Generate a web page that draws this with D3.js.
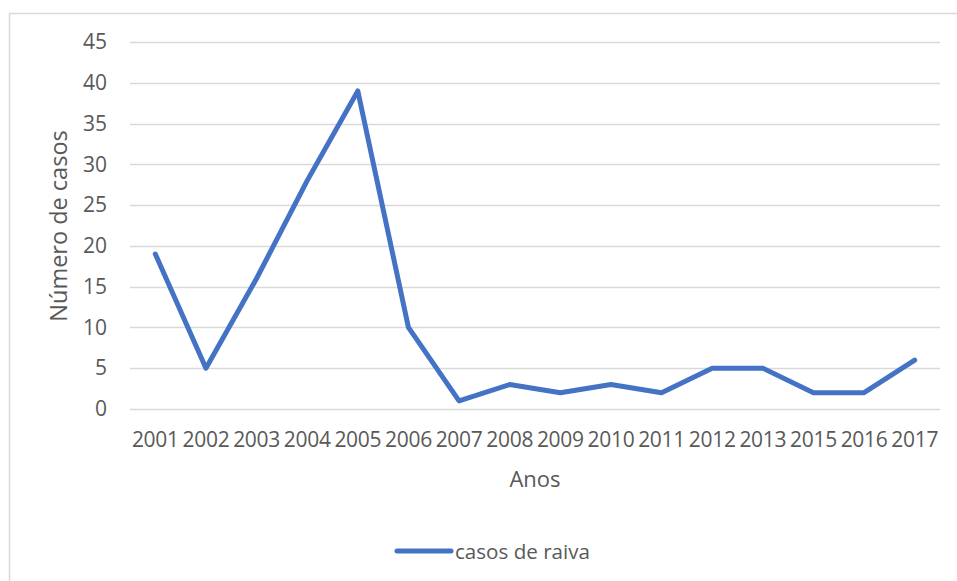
<!DOCTYPE html>
<html>
<head>
<meta charset="utf-8">
<script src="https://cdn.jsdelivr.net/npm/d3@7"></script>
<style>
  html, body { margin: 0; padding: 0; background: #fff; }
  svg { display: block; }
  text { font-family: "Open Sans", "Noto Sans", sans-serif; fill: #595959; }
</style>
</head>
<body>
<svg id="chart" width="957" height="581"></svg>
<script>
// Casos de raiva por ano
const anos = ["2001","2002","2003","2004","2005","2006","2007","2008","2009","2010","2011","2012","2013","2015","2016","2017"];
const casos = [19, 5, 16, 28, 39, 10, 1, 3, 2, 3, 2, 5, 5, 2, 2, 6];
const yTicks = [0, 5, 10, 15, 20, 25, 30, 35, 40, 45];
const serieNome = "casos de raiva";
const tituloX = "Anos";
const tituloY = "Número de casos";

const svg = d3.select("#chart");
const W = 957, H = 581;
const plot = { left: 130, right: 940, top: 42, bottom: 409 };
const azul = "#4472C4";

// moldura do gráfico
svg.append("rect")
  .attr("x", 9.5).attr("y", 13.5)
  .attr("width", W + 10).attr("height", H + 10)
  .attr("fill", "#fff").attr("stroke", "#d9d9d9").attr("stroke-width", 1.5);

const x = d3.scaleBand().domain(anos).range([plot.left, plot.right]);
const y = d3.scaleLinear().domain([0, 45]).range([plot.bottom, plot.top]);

// linhas de grade
svg.append("g")
  .selectAll("line").data(yTicks).join("line")
  .attr("x1", plot.left).attr("x2", plot.right)
  .attr("y1", d => Math.round(y(d)) + 0.5).attr("y2", d => Math.round(y(d)) + 0.5)
  .attr("stroke", "#d9d9d9").attr("stroke-width", 1.5);

// eixo Y
const yAxis = svg.append("g")
  .attr("transform", `translate(${plot.left},0)`)
  .call(d3.axisLeft(y).tickValues(yTicks).tickSize(0).tickPadding(23));
yAxis.select(".domain").remove();
yAxis.selectAll("text").style("font-size", "21px").attr("fill", "#595959")
  .style("font-family", '"Open Sans", sans-serif');

// eixo X
const xAxis = svg.append("g")
  .attr("transform", `translate(0,${plot.bottom})`)
  .call(d3.axisBottom(x).tickSize(0).tickPadding(23));
xAxis.select(".domain").remove();
xAxis.selectAll("text").style("font-size", "21px").attr("fill", "#595959")
  .style("font-family", '"Open Sans", sans-serif')
  .attr("letter-spacing", "-0.3px");

// série
const linha = d3.line()
  .x((d, i) => x(anos[i]) + x.bandwidth() / 2)
  .y(d => y(d));
svg.append("path")
  .datum(casos)
  .attr("d", linha)
  .attr("fill", "none")
  .attr("stroke", azul)
  .attr("stroke-width", 5)
  .attr("stroke-linejoin", "round")
  .attr("stroke-linecap", "round");

// títulos dos eixos
svg.append("text")
  .attr("x", (plot.left + plot.right) / 2)
  .attr("y", 487)
  .attr("text-anchor", "middle")
  .style("font-size", "22px")
  .text(tituloX);

svg.append("text")
  .attr("transform", "translate(67,226) rotate(-90)")
  .attr("text-anchor", "middle")
  .style("font-size", "23.5px")
  .text(tituloY);

// legenda
const leg = svg.append("g").attr("transform", "translate(397,551)");
leg.append("line")
  .attr("x1", 0).attr("x2", 54)
  .attr("stroke", azul).attr("stroke-width", 5).attr("stroke-linecap", "round");
leg.append("text")
  .attr("x", 58).attr("y", 7.5)
  .style("font-size", "20.6px")
  .text(serieNome);
</script>
</body>
</html>
